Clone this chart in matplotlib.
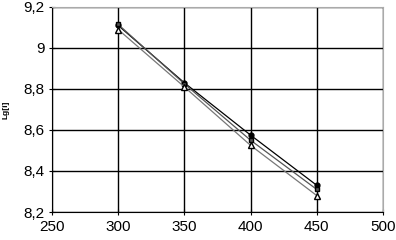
import matplotlib
matplotlib.use("Agg")
import matplotlib.pyplot as plt
from matplotlib.ticker import FuncFormatter

plt.rcParams['font.family'] = ['Liberation Sans', 'DejaVu Sans']

x = [300, 350, 400, 450]
s1 = [9.11, 8.83, 8.575, 8.33]   # filled circles
s2 = [9.115, 8.825, 8.55, 8.31]  # squares
s3 = [9.09, 8.81, 8.525, 8.28]   # open triangles

fig = plt.figure(figsize=(3.96, 2.40), dpi=100)
ax = fig.add_axes([52/396, 28/240, 331/396, 205/240])
ax.plot(x, s1, color='black', lw=0.9, marker='o', ms=3.5, mfc='black', mec='black')
ax.plot(x, s2, color='#555555', lw=0.9, marker='s', ms=3.5, mfc='#555555', mec='black')
ax.plot(x, s3, color='#777777', lw=0.9, marker='^', ms=4, mfc='white', mec='black')

ax.set_xlim(250, 500)
ax.set_ylim(8.2, 9.2)
ax.set_xticks([250, 300, 350, 400, 450, 500])
ax.set_yticks([8.2, 8.4, 8.6, 8.8, 9.0, 9.2])
fmt = FuncFormatter(lambda v, p: f"{v:g}".replace('.', ','))
ax.yaxis.set_major_formatter(fmt)
ax.grid(True, color='black', lw=1)
ax.set_axisbelow(True)
for s in ['top', 'right']:
    ax.spines[s].set_color('#aaaaaa')
ax.tick_params(labelsize=11, length=4, direction='inout')
ax.set_ylabel('Lg[i]', fontsize=6, fontweight='bold', labelpad=10)
fig.savefig('out.png', dpi=100)
